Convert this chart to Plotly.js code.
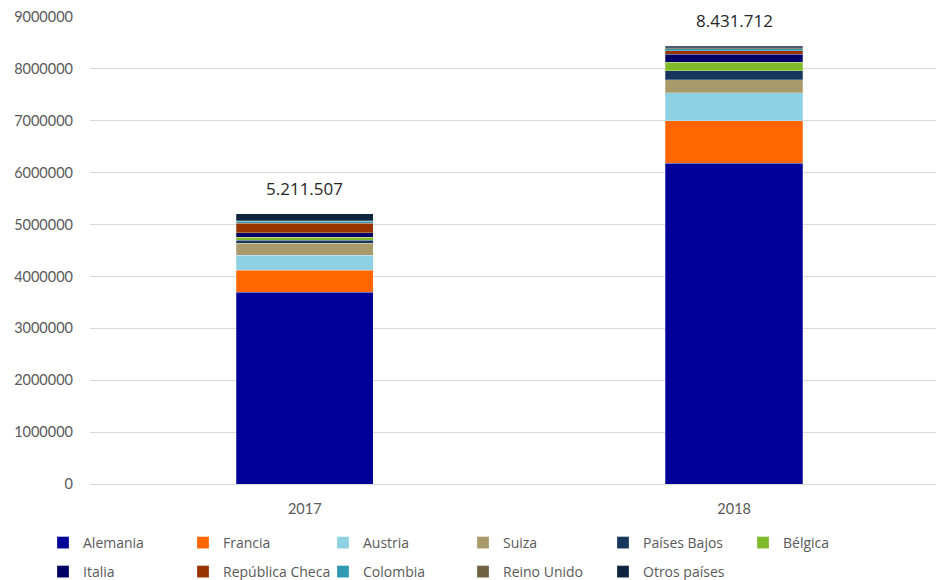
<!DOCTYPE html>
<html>
<head>
<meta charset="utf-8">
<script src="https://cdn.plot.ly/plotly-3.0.1.min.js"></script>
<style>html,body{margin:0;padding:0;background:#fff;}#chart{width:936px;height:580px;}</style>
</head>
<body>
<div id="chart"></div>
<script>
const years = ['2017', '2018'];
const countries = ['Alemania', 'Francia', 'Austria', 'Suiza', 'Países Bajos', 'Bélgica',
                   'Italia', 'República Checa', 'Colombia', 'Reino Unido', 'Otros países'];
const alemania     = [3700000, 6180000];
const francia      = [424000, 821000];
const austria      = [289000, 540000];
const suiza        = [225000, 245000];
const paisesBajos  = [64000, 180000];
const belgica      = [51000, 160000];
const italia       = [90000, 160000];
const republicaCheca = [180000, 65000];
const colombia     = [40000, 40000];
const reinoUnido   = [10000, 20000];
const otrosPaises  = [138507, 20712];
const totals = [5211507, 8431712];
const totalLabels = ['5.211.507', '8.431.712'];
const yTicks = [0, 1000000, 2000000, 3000000, 4000000, 5000000, 6000000, 7000000, 8000000, 9000000];

const series = [alemania, francia, austria, suiza, paisesBajos, belgica,
                italia, republicaCheca, colombia, reinoUnido, otrosPaises];
const colors = ['#000099', '#FF6600', '#8DD1E3', '#A99A6C', '#17365D', '#7FBA2A',
                '#000066', '#993300', '#2E99B0', '#6F6242', '#0F243E'];

const font = 'Lato, "Liberation Sans", sans-serif';
const lfont = '"Open Sans", "Liberation Sans", sans-serif';

const traces = series.map((vals, i) => ({
  type: 'bar',
  name: countries[i],
  x: years,
  y: vals,
  width: 0.32,
  marker: {color: colors[i], line: {color: 'rgba(255,255,255,0.5)', width: 0.5}},
  legend: i < 6 ? 'legend' : 'legend2',
  hoverinfo: 'name+y'
}));

const legendBase = {
  orientation: 'h',
  xref: 'container', yref: 'container',
  xanchor: 'left', yanchor: 'middle',
  entrywidth: 95, entrywidthmode: 'pixels',
  font: {family: lfont, size: 14, color: '#595959'},
  traceorder: 'normal',
  bgcolor: 'rgba(0,0,0,0)'
};

const layout = {
  width: 936, height: 580,
  margin: {l: 90, r: 0, t: 17, b: 96},
  paper_bgcolor: '#fff', plot_bgcolor: '#fff',
  barmode: 'stack',
  font: {family: font, size: 13, color: '#595959'},
  xaxis: {
    type: 'category',
    range: [-0.5, 1.47],
    showgrid: false, showline: true, linecolor: '#d9d9d9', linewidth: 1,
    ticks: '', ticklabelstandoff: 12,
    tickfont: {family: font, size: 14.5, color: '#595959'}
  },
  yaxis: {
    range: [0, 9000000],
    tickvals: yTicks,
    ticktext: yTicks.map(v => String(v)),
    showgrid: true, gridcolor: '#d9d9d9', gridwidth: 1,
    zeroline: false, showline: false, ticks: '',
    ticklabelstandoff: 16,
    tickfont: {family: font, size: 14.5, color: '#595959'}
  },
  showlegend: true,
  legend: Object.assign({}, legendBase, {x: 43 / 936, y: 1 - 543 / 580}),
  legend2: Object.assign({}, legendBase, {x: 43 / 936, y: 1 - 572 / 580}),
  annotations: years.map((yr, i) => ({
    x: i, y: totals[i], xref: 'x', yref: 'y',
    text: totalLabels[i], showarrow: false,
    yanchor: 'bottom', yshift: 12,
    font: {family: lfont, size: 17, color: '#262626'}
  }))
};

Plotly.newPlot('chart', traces, layout, {displayModeBar: false, responsive: false});
</script>
</body>
</html>
